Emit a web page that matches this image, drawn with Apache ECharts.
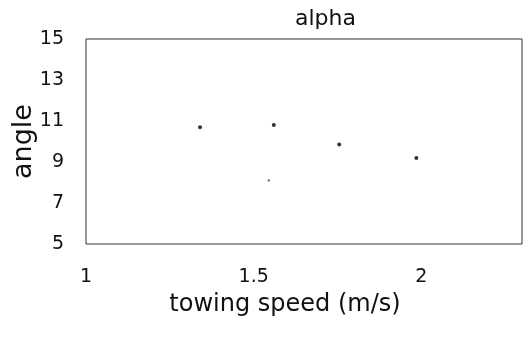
<!DOCTYPE html>
<html>
<head>
<meta charset="utf-8">
<script src="https://cdn.jsdelivr.net/npm/echarts@6/dist/echarts.min.js"></script>
<style>html,body{margin:0;padding:0;background:#fff}#c{width:526px;height:349px}</style>
</head>
<body>
<div id="c"></div>
<script>
const titleText = 'alpha';
const xName = 'towing speed (m/s)';
const yName = 'angle';
const xTicks = ['1', '1.5', '2'];
const speed = [1.34, 1.56, 1.755, 1.985];
const angle = [10.7, 10.8, 9.85, 9.2];
const faintSpeed = [1.545];
const faintAngle = [8.1];

const font = 'DejaVu Sans';
const chart = echarts.init(document.getElementById('c'));
chart.setOption({
  backgroundColor: '#fff',
  animation: false,
  title: {
    text: titleText, left: 290, top: 3,
    textStyle: { fontFamily: font, fontSize: 22, fontWeight: 'normal', color: '#111' }
  },
  grid: { left: 86, right: 4, top: 39, bottom: 105, show: true, borderColor: '#333', borderWidth: 1,
          containLabel: false, outerBoundsMode: 'none' },
  xAxis: {
    type: 'value', min: 1, max: 2.3, interval: 0.5,
    name: xName, nameLocation: 'middle', nameGap: 49, nameMoveOverlap: false,
    nameTextStyle: { fontFamily: font, fontSize: 24, color: '#111', padding: [0, 38, 0, 0] },
    axisLine: { show: false }, axisTick: { show: false }, splitLine: { show: false },
    axisLabel: {
      margin: 24, fontFamily: font, fontSize: 19, color: '#111',
      formatter: v => { const s = String(Math.round(v * 10) / 10); return xTicks.includes(s) ? s : ''; }
    }
  },
  yAxis: {
    type: 'value', min: 5, max: 15, interval: 2,
    name: yName, nameLocation: 'middle', nameGap: 49, nameRotate: 90, nameMoveOverlap: false,
    nameTextStyle: { fontFamily: font, fontSize: 27, color: '#111' },
    axisLine: { show: false }, axisTick: { show: false }, splitLine: { show: false },
    axisLabel: { margin: 22, fontFamily: font, fontSize: 19, color: '#111' }
  },
  series: [
    { type: 'scatter', data: speed.map((x, i) => [x, angle[i]]), symbol: 'circle', symbolSize: 4,
      itemStyle: { color: '#000' } },
    { type: 'scatter', data: faintSpeed.map((x, i) => [x, faintAngle[i]]), symbol: 'rect', symbolSize: 2,
      itemStyle: { color: '#333' } }
  ]
});
</script>
</body>
</html>
